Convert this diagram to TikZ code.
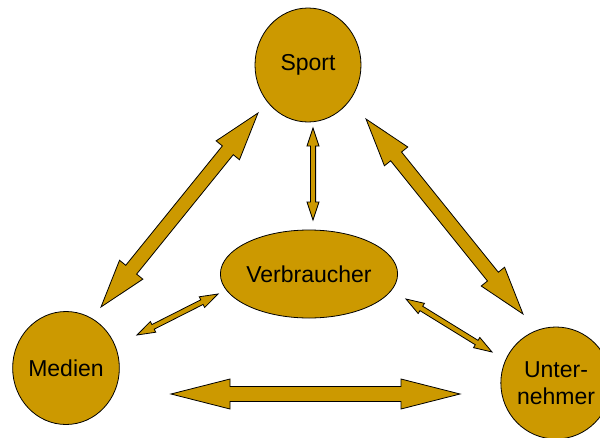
\documentclass[tikz,border=0pt]{standalone}
\usepackage{fontspec}
\setmainfont{Liberation Sans}
\usetikzlibrary{calc,shapes.geometric}
\definecolor{gold}{RGB}{204,153,0}
\tikzset{
  bubble/.style={ellipse,draw=black,line width=0.8pt,fill=gold,inner sep=0pt,font=\fontsize{23}{27}\selectfont,text=black},
  arrowshape/.style={draw=black,line width=0.8pt,fill=gold,line join=miter}
}
\newcommand\dblarr[5]{% start, end, shaft half, head half, head length
  \coordinate (ha) at ($(#1)!#5!(#2)$);
  \coordinate (hb) at ($(#2)!#5!(#1)$);
  \path[arrowshape] (#1)
    -- ($(ha)!#4!90:(#2)$) -- ($(ha)!#3!90:(#2)$)
    -- ($(hb)!#3!90:(#2)$) -- ($(hb)!#4!90:(#2)$)
    -- (#2)
    -- ($(hb)!#4!-90:(#2)$) -- ($(hb)!#3!-90:(#2)$)
    -- ($(ha)!#3!-90:(#2)$) -- ($(ha)!#4!-90:(#2)$)
    -- cycle;
}
\begin{document}
\begin{tikzpicture}[x=1pt,y=-1pt]
\useasboundingbox (0,0) rectangle (600,437);
\node[bubble,minimum width=106pt,minimum height=114pt] (sport) at (308,65) {Sport};
\node[bubble,minimum width=168pt,minimum height=88pt] (verb) at (309,274) {Verbraucher};
\node[bubble,minimum width=105pt,minimum height=113pt] (medien) at (66,368) {Medien};
\node[bubble,minimum width=104pt,minimum height=112pt,align=center] (unt) at (556,383) {Unter-\\nehmer};
% arrow tips
\coordinate (sm1) at (258,113);
\coordinate (sm2) at (101,307);
\coordinate (su1) at (366,119);
\coordinate (su2) at (523,314);
\coordinate (mu1) at (171,394);
\coordinate (mu2) at (460,394);
\coordinate (sv1) at (313,128);
\coordinate (sv2) at (313,220);
\coordinate (mv1) at (137,335);
\coordinate (mv2) at (218,294);
\coordinate (vu1) at (406,299);
\coordinate (vu2) at (492,352);
\dblarr{sm1}{sm2}{7pt}{15pt}{48pt}
\dblarr{su1}{su2}{7pt}{15pt}{48pt}
\dblarr{mu1}{mu2}{7.5pt}{15pt}{59pt}
\dblarr{sv1}{sv2}{2.6pt}{6pt}{18pt}
\dblarr{mv1}{mv2}{2.6pt}{6pt}{18pt}
\dblarr{vu1}{vu2}{2.6pt}{6pt}{18pt}
\end{tikzpicture}
\end{document}
